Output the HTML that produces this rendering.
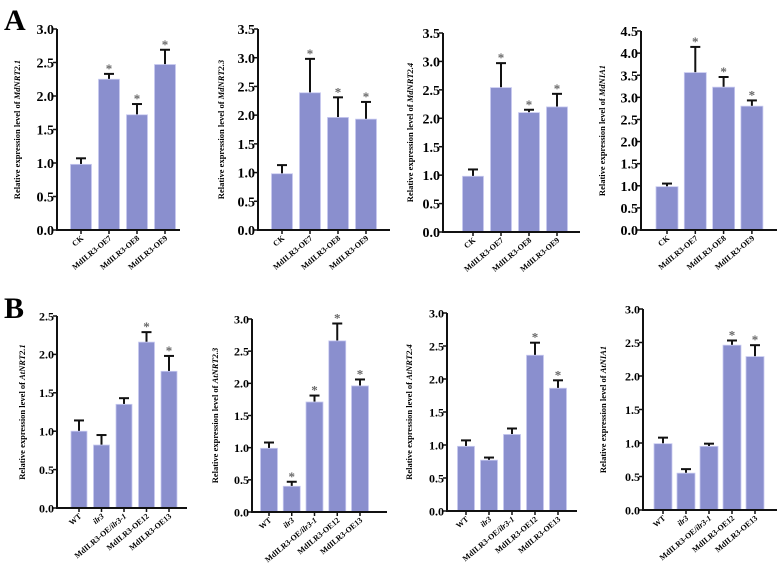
<!DOCTYPE html>
<html><head><meta charset="utf-8">
<style>
html,body{margin:0;padding:0;background:#fff;}
svg{display:block;font-family:"Liberation Serif",serif;}
</style></head>
<body>
<svg id="fig" width="778" height="566" viewBox="0 0 778 566">
<text x="4" y="30" font-size="30" font-weight="bold">A</text>
<text x="4" y="318" font-size="30" font-weight="bold">B</text>
</svg>
<script>
const catsA = ["CK","MdILR3-OE7","MdILR3-OE8","MdILR3-OE9"];
const catsB = ["WT","ilr3","MdILR3-OE/ilr3-1","MdILR3-OE12","MdILR3-OE13"];
const genesA = ["MdNRT2.1","MdNRT2.3","MdNRT2.4","MdNIA1"];
const genesB = ["AtNRT2.1","AtNRT2.3","AtNRT2.4","AtNIA1"];
const valsA1 = [0.98,2.25,1.72,2.47]; const errA1 = [0.09,0.08,0.16,0.22]; const starA1=[0,1,1,1];
const valsA2 = [0.98,2.39,1.96,1.93]; const errA2 = [0.15,0.59,0.35,0.30]; const starA2=[0,1,1,1];
const valsA3 = [0.98,2.54,2.10,2.20]; const errA3 = [0.12,0.43,0.05,0.23]; const starA3=[0,1,1,1];
const valsA4 = [0.98,3.56,3.23,2.80]; const errA4 = [0.07,0.58,0.23,0.13]; const starA4=[0,1,1,1];
const valsB1 = [1.00,0.82,1.35,2.16,1.78]; const errB1=[0.14,0.13,0.08,0.13,0.20]; const starB1=[0,0,0,1,1];
const valsB2 = [0.99,0.40,1.71,2.66,1.96]; const errB2=[0.09,0.07,0.10,0.27,0.10]; const starB2=[0,1,1,1,1];
const valsB3 = [0.98,0.77,1.16,2.36,1.86]; const errB3=[0.09,0.04,0.09,0.19,0.12]; const starB3=[0,0,0,1,1];
const valsB4 = [0.99,0.55,0.95,2.46,2.29]; const errB4=[0.09,0.06,0.04,0.07,0.17]; const starB4=[0,0,0,1,1];
const ymaxA = [3.0,3.5,3.5,4.5];
const ymaxB = [2.5,3.0,3.0,3.0];

const NS="http://www.w3.org/2000/svg";
const svg=document.getElementById('fig');
function mk(tag,attrs,parent){const e=document.createElementNS(NS,tag);for(const k in attrs)e.setAttribute(k,attrs[k]);(parent||svg).appendChild(e);return e;}

const layout=[
 {ax:57,top:29,bot:230,xe:180,c0:81,st:28,w:21,tx:20,fs:14,lf:8},
 {ax:258,top:29,bot:230,xe:390,c0:282,st:28,w:21,tx:224,fs:14,lf:8},
 {ax:443,top:33,bot:232,xe:580,c0:473,st:28,w:21,tx:413,fs:14,lf:8},
 {ax:641,top:31,bot:230,xe:777,c0:667,st:28.3,w:22,tx:605,fs:14,lf:8},
 {ax:57,top:316,bot:508,xe:187,c0:79,st:22.5,w:16,tx:25,fs:12,lf:8},
 {ax:252,top:319,bot:512,xe:387,c0:269,st:22.75,w:17,tx:218,fs:12,lf:8},
 {ax:447,top:313,bot:511,xe:577,c0:466,st:23,w:17,tx:412,fs:12,lf:8},
 {ax:643,top:309,bot:510,xe:777,c0:663,st:23,w:18,tx:606,fs:12,lf:8}
];
const series=[
 [valsA1,errA1,starA1,catsA,genesA[0],ymaxA[0]],
 [valsA2,errA2,starA2,catsA,genesA[1],ymaxA[1]],
 [valsA3,errA3,starA3,catsA,genesA[2],ymaxA[2]],
 [valsA4,errA4,starA4,catsA,genesA[3],ymaxA[3]],
 [valsB1,errB1,starB1,catsB,genesB[0],ymaxB[0]],
 [valsB2,errB2,starB2,catsB,genesB[1],ymaxB[1]],
 [valsB3,errB3,starB3,catsB,genesB[2],ymaxB[2]],
 [valsB4,errB4,starB4,catsB,genesB[3],ymaxB[3]]
];
series.forEach((s,pi)=>{
 const L=layout[pi];const [vals,errs,stars,cats,gene,ymax]=s;
 const g=mk('g',{});
 
 
 const y=v=>L.bot-(v/ymax)*(L.bot-L.top);
 const x=i=>L.c0+i*L.st;
 vals.forEach((v,i)=>{
  const eTop=y(v+errs[i]);
  const ln=mk('line',{x1:x(i),x2:x(i),y1:y(v),y2:eTop,stroke:'#111','stroke-width':2},g);
  
  
  const cap=mk('line',{x1:x(i)-5,x2:x(i)+5,y1:eTop,y2:eTop,stroke:'#111','stroke-width':2},g);
  
  
  const r=mk('rect',{x:x(i)-L.w/2,y:y(v),width:L.w,height:L.bot-y(v),fill:'#8a8fce',stroke:'#c8caf0','stroke-width':0.8},g);
  
  
  if(stars[i]){const t=mk('text',{x:x(i),y:eTop-1,'font-size':13,'font-weight':'bold','text-anchor':'middle',fill:'#666'},g);t.textContent='*';
   
   }
  const tk=mk('line',{x1:x(i),x2:x(i),y1:L.bot,y2:L.bot+4,stroke:'#111','stroke-width':1.5},g);
  
  
  const lb=mk('text',{x:x(i)+3,y:L.bot+9,'font-size':L.lf,'font-weight':'bold','text-anchor':'end',transform:`rotate(-40 ${x(i)+3} ${L.bot+9})`,'font-style':cats[i]==='ilr3'?'italic':'normal'},g);
  if(cats[i]==='MdILR3-OE/ilr3-1'){lb.innerHTML='MdILR3-OE/<tspan font-style="italic">ilr3-1</tspan>';}else lb.textContent=cats[i];
  
  
 });
 const yax=mk('line',{x1:L.ax,x2:L.ax,y1:L.top,y2:L.bot,stroke:'#111','stroke-width':2},g);
 
 
 const xax=mk('line',{x1:L.ax-1,x2:L.xe,y1:L.bot,y2:L.bot,stroke:'#111','stroke-width':2},g);
 
 
 for(let v=0;v<=ymax+1e-9;v+=0.5){
  const tk=mk('line',{x1:L.ax-4,x2:L.ax,y1:y(v),y2:y(v),stroke:'#111','stroke-width':1.5},g);
  
  
  const t=mk('text',{x:L.ax-3,y:y(v)+L.fs*0.36,'font-size':L.fs,'font-weight':'bold','text-anchor':'end'},g);
  t.textContent=v.toFixed(1);
  
  
 }
 const cy=(L.top+L.bot)/2;
 const tt=mk('text',{x:L.tx,y:cy,'font-size':8.5,'font-weight':'bold','text-anchor':'middle',transform:`rotate(-90 ${L.tx} ${cy})`},g);
 tt.innerHTML='Relative expression level of <tspan font-style="italic">'+gene+'</tspan>';
 
 
});
</script>
</body></html>
